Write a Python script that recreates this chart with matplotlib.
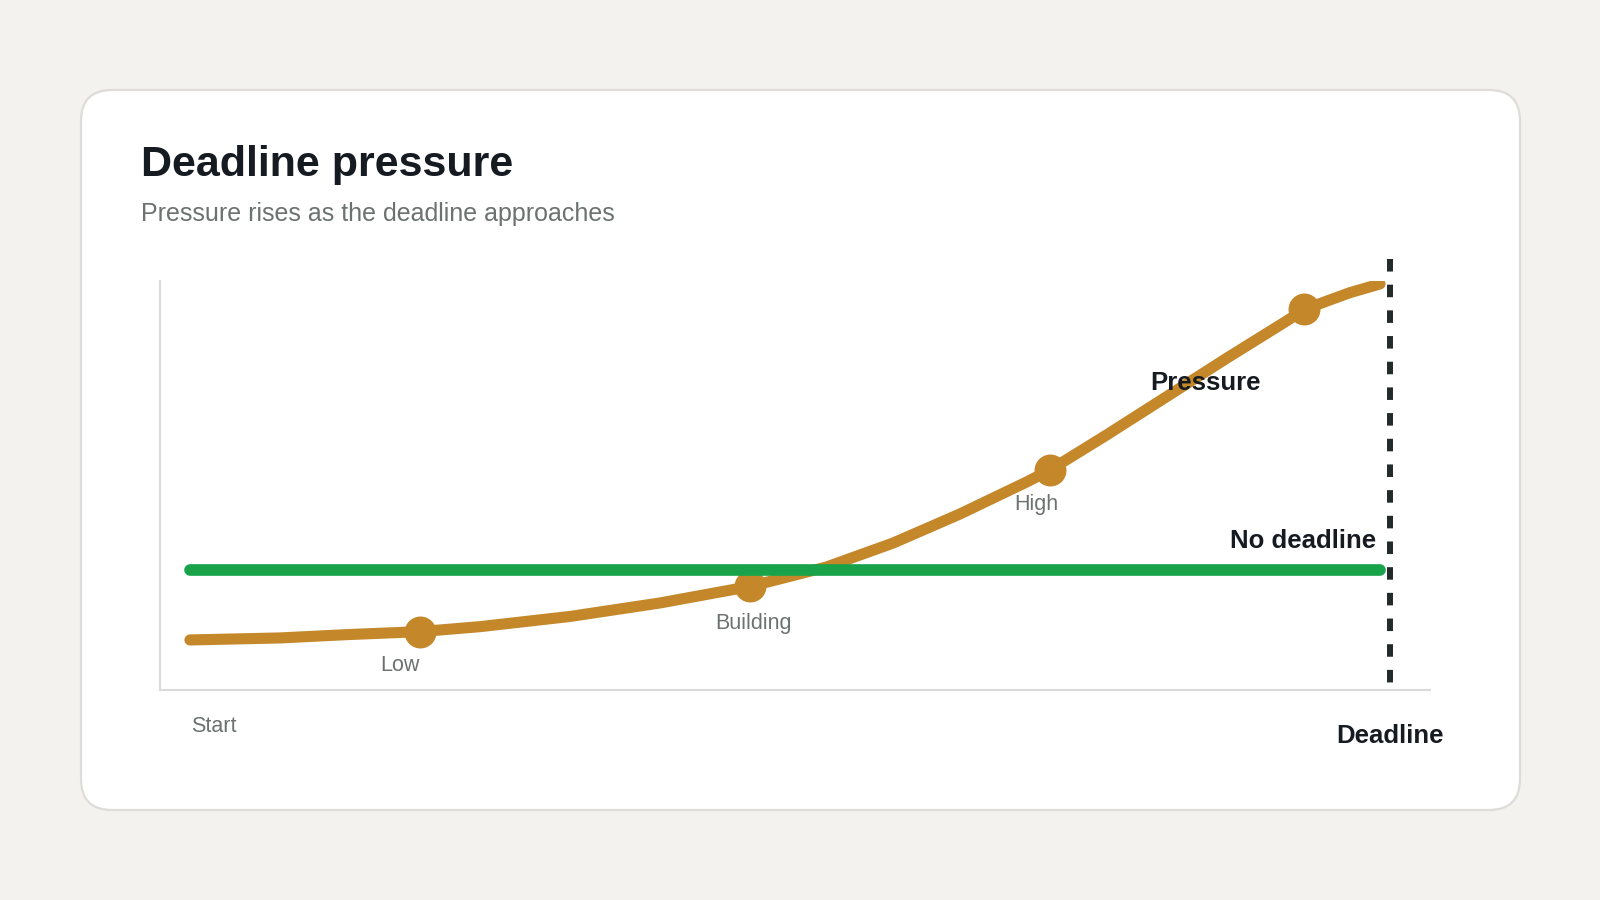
import matplotlib
matplotlib.use("Agg")
import matplotlib.pyplot as plt
from matplotlib.patches import FancyBboxPatch

plt.rcParams['font.family'] = ['Liberation Sans', 'DejaVu Sans']

# Data (time 0 = start, 100 = deadline; pressure 0-100)
time_pts = [0, 7.5, 13.06, 19.17, 24.17, 31.67, 39.17, 46.67, 53.06, 58.61, 64.17,
            69.73, 71.67, 76.39, 80.83, 86.39, 91.39, 92.86, 95.0, 96.67, 99.17]
pressure_pts = [12.17, 12.66, 13.47, 14.20, 15.42, 17.91, 21.21, 25.24, 30.01, 35.87, 42.96,
                50.78, 53.71, 62.27, 70.58, 81.01, 90.13, 92.94, 95.26, 97.04, 99.17]
marker_time = [19.17, 46.67, 71.67, 92.86]
marker_pressure = [14.20, 25.24, 53.71, 92.94]
marker_labels = ['Low', 'Building', 'High', '']
no_deadline_time = [0, 99.2]
no_deadline_pressure = [29.28, 29.28]
deadline_time = 100

ORANGE = '#c4882a'
GREEN = '#18a34b'
DARK = '#161b22'
GRAY = '#6b7270'

fig = plt.figure(figsize=(16, 9), dpi=100)
fig.patch.set_facecolor('#f3f2ee')

# card background in pixel coordinates
bg = fig.add_axes([0, 0, 1, 1])
bg.set_xlim(0, 1600)
bg.set_ylim(900, 0)
bg.axis('off')
card = FancyBboxPatch((81, 90), 1439, 720, boxstyle='round,pad=0,rounding_size=31',
                      fc='white', ec='#dddcd8', lw=1.6)
bg.add_patch(card)

fig.text(0.088, 0.804, 'Deadline pressure', fontsize=31, fontweight='bold', color=DARK)
fig.text(0.088, 0.755, 'Pressure rises as the deadline approaches', fontsize=18, color=GRAY)

ax = fig.add_axes([0.1001, 0.2336, 0.7934, 0.4547])
ax.set_facecolor('none')
ax.set_xlim(-2.48, 103.3)
ax.set_ylim(0, 100)
for s in ['top', 'right']:
    ax.spines[s].set_visible(False)
for s in ['left', 'bottom']:
    ax.spines[s].set_color('#d8dbd8')
    ax.spines[s].set_linewidth(1.5)
ax.set_xticks([])
ax.set_yticks([])

# pressure curve
ax.plot(time_pts, pressure_pts, color=ORANGE, lw=8, solid_capstyle='round',
        solid_joinstyle='round', zorder=3)
ax.plot(marker_time, marker_pressure, 'o', color=ORANGE, ms=23, mew=0, zorder=3)

offsets = [(-14.4, -24.5), (2.2, -27), (-9.6, -25), (0, 0)]
for t, p, lab, off in zip(marker_time, marker_pressure, marker_labels, offsets):
    if lab:
        ax.annotate(lab, (t, p), xytext=off, textcoords='offset points',
                    ha='center', va='center', fontsize=15.5, color=GRAY, zorder=5)

# no-deadline baseline
ax.plot(no_deadline_time, no_deadline_pressure, color=GREEN, lw=8.4,
        solid_capstyle='round', zorder=4)
ax.annotate('No deadline', (no_deadline_time[-1], no_deadline_pressure[-1]), xytext=(-2.8, 20.5),
            textcoords='offset points', ha='right', va='center', fontsize=18.5,
            fontweight='bold', color=DARK, zorder=5)

ax.text(84.6, 74.9, 'Pressure', ha='center', va='center', fontsize=18.5,
        fontweight='bold', color=DARK, zorder=5)

# deadline marker (drawn top-down so the dash pattern starts at the top)
ax.plot([deadline_time, deadline_time], [105.2, 0], color='#232a2a', lw=4.3,
        dashes=(2.1, 2.2), dash_capstyle='butt', clip_on=False, zorder=6)

fig.text(0.1193, 0.1867, 'Start', fontsize=15.5, color=GRAY)
fig.text(0.8686, 0.1745, 'Deadline', fontsize=18.5, fontweight='bold', color=DARK, ha='center')

fig.savefig('out.png', dpi=100, facecolor=fig.get_facecolor())
